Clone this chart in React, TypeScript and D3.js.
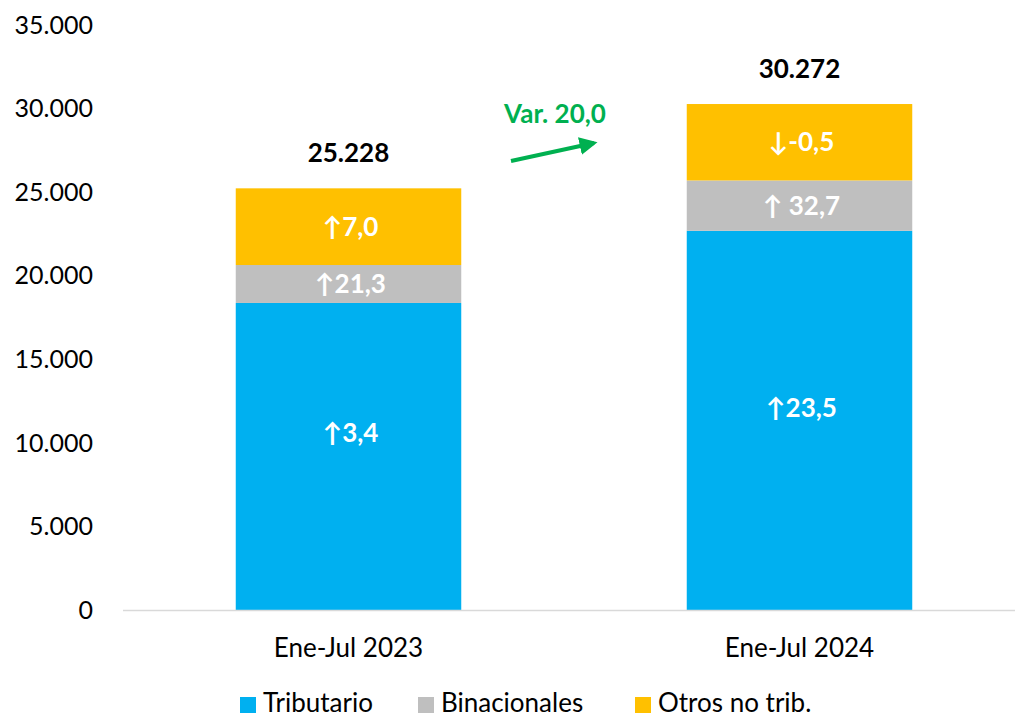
import React from "react";
import * as d3 from "d3";

const categories = ["Ene-Jul 2023", "Ene-Jul 2024"];
const seriesNames = ["Tributario", "Binacionales", "Otros no trib."];
const seriesColors = ["#00B0F0", "#BFBFBF", "#FFC000"];
const tributario = [18370, 22687];
const binacionales = [2270, 3012];
const otros = [4588, 4573];
const varLabels = [
  ["↑3,4", "↑23,5"],
  ["↑21,3", "↑ 32,7"],
  ["↑7,0", "↓-0,5"],
];
const totalLabels = ["25.228", "30.272"];
const yTicks = [0, 5000, 10000, 15000, 20000, 25000, 30000, 35000];
const varText = "Var. 20,0";

const W = 1015;
const H = 719;
const FONT = "Lato, 'Open Sans', sans-serif";

export default function App() {
  const x = d3
    .scaleBand<string>()
    .domain(categories)
    .range([123, 1025])
    .paddingInner(0.5)
    .paddingOuter(0.25);
  const y = d3.scaleLinear().domain([0, 35000]).range([610, 25]);
  const fmt = (v: number) => d3.format(",")(v).replace(/,/g, ".");

  const rows = categories.map((c, i) => ({
    cat: c,
    Tributario: tributario[i],
    Binacionales: binacionales[i],
    "Otros no trib.": otros[i],
  }));
  const stacked = d3.stack<any>().keys(seriesNames)(rows);
  const tribOffset = [-24, -13];

  const legendX = [240, 418, 635];

  return (
    <svg width={W} height={H} style={{ position: "absolute", left: 0, top: 0 }}>
      <rect width={W} height={H} fill="#fff" />
      {yTicks.map((t) => (
        <text
          key={t}
          x={93}
          y={y(t)}
          dy="0.35em"
          textAnchor="end"
          fontFamily={FONT}
          fontSize={25}
          fill="#000"
        >
          {fmt(t)}
        </text>
      ))}
      {stacked.map((s, si) =>
        s.map((d, ci) => (
          <rect
            key={`${si}-${ci}`}
            x={x(categories[ci])!}
            width={x.bandwidth()}
            y={y(d[1])}
            height={y(d[0]) - y(d[1])}
            fill={seriesColors[si]}
          />
        ))
      )}
      <line x1={123} x2={1015} y1={610.5} y2={610.5} stroke="#D9D9D9" strokeWidth={1.5} />
      {stacked.map((s, si) =>
        s.map((d, ci) => (
          <text
            key={`l-${si}-${ci}`}
            x={x(categories[ci])! + x.bandwidth() / 2 + 2}
            y={(y(d[0]) + y(d[1])) / 2 + (si === 0 ? tribOffset[ci] : 0)}
            dy="0.35em"
            textAnchor="middle"
            fontFamily={FONT}
            fontWeight={700}
            fontSize={26}
            fill="#fff"
          >
            {varLabels[si][ci]}
          </text>
        ))
      )}
      {categories.map((c, ci) => (
        <text
          key={`t-${c}`}
          x={x(c)! + x.bandwidth() / 2}
          y={y(stacked[2][ci][1]) - 26}
          textAnchor="middle"
          fontFamily={FONT}
          fontWeight={700}
          fontSize={26}
          fill="#000"
        >
          {totalLabels[ci]}
        </text>
      ))}
      {categories.map((c) => (
        <text
          key={`c-${c}`}
          x={x(c)! + x.bandwidth() / 2}
          y={657}
          textAnchor="middle"
          fontFamily={FONT}
          fontSize={26}
          fill="#000"
        >
          {c}
        </text>
      ))}
      <text
        x={555}
        y={123}
        textAnchor="middle"
        fontFamily={FONT}
        fontWeight={700}
        fontSize={26}
        fill="#00B050"
      >
        {varText}
      </text>
      <defs>
        <marker
          id="arr"
          viewBox="0 0 10 10"
          refX={8}
          refY={5}
          markerWidth={4.5}
          markerHeight={4.5}
          orient="auto"
          markerUnits="strokeWidth"
        >
          <path d="M0,0 L10,5 L0,10 z" fill="#00B050" />
        </marker>
      </defs>
      <line
        x1={511}
        y1={161}
        x2={594}
        y2={143}
        stroke="#00B050"
        strokeWidth={4}
        markerEnd="url(#arr)"
      />
      {seriesNames.map((n, i) => (
        <g key={`lg-${n}`}>
          <rect x={legendX[i]} y={697} width={16} height={16} fill={seriesColors[i]} />
          <text x={legendX[i] + 23} y={712} fontFamily={FONT} fontSize={26} fill="#000">
            {n}
          </text>
        </g>
      ))}
    </svg>
  );
}
